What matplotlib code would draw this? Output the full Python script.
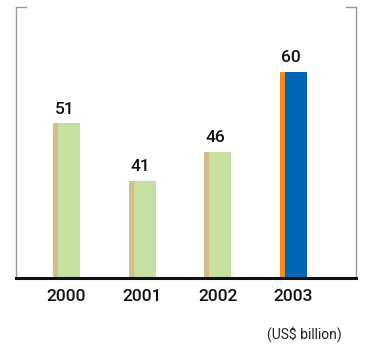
import matplotlib.pyplot as plt
from matplotlib.lines import Line2D

# Investment by year, US$ billion
years = ["2000", "2001", "2002", "2003"]
values = [51, 41, 46, 60]
edge_colors = ["#D8BB8B", "#D8BB8B", "#D8BB8B", "#F38A22"]
face_colors = ["#C6E0A1", "#C6E0A1", "#C6E0A1", "#0065B2"]

plt.rcParams['font.family'] = ['Roboto', 'DejaVu Sans']

fig = plt.figure(figsize=(3.72, 3.44), dpi=100)
ax = fig.add_axes([16 / 372, 66 / 344, 340 / 372, 271 / 344])

x = range(len(years))
strip_w = 0.066
main_w = 0.287
left = -(strip_w + main_w) / 2

# each bar = thin accent strip on the left + wide main body
ax.bar([i + left for i in x], values, width=strip_w, align='edge',
       color=edge_colors, linewidth=0)
ax.bar([i + left + strip_w for i in x], values, width=main_w, align='edge',
       color=face_colors, linewidth=0)

for i, v in zip(x, values):
    ax.annotate(str(v), (i - 0.03, v), xytext=(0, 5), textcoords='offset points',
                ha='center', va='bottom', fontsize=12.5, fontweight='medium',
                color='#111111')

ax.set_xlim(-0.67, 3.83)
ax.set_ylim(24.2, 71.2)
ax.set_xticks(list(x))
ax.set_xticklabels(years, fontsize=12.5, fontweight='medium', color='#111111')
ax.tick_params(axis='x', length=0, pad=8)
ax.set_yticks([])

for side in ['top', 'right', 'left']:
    ax.spines[side].set_visible(False)
ax.spines['bottom'].set_linewidth(2.2)
ax.spines['bottom'].set_color('#111111')

# light gray brackets at the sides
gray = '#9A9A9A'
for xs in ([0, 0], [1, 1]):
    ax.add_line(Line2D(xs, [0, 1], transform=ax.transAxes, color=gray,
                       linewidth=1.0, clip_on=False))
ax.add_line(Line2D([0, 10 / 340], [1, 1], transform=ax.transAxes, color=gray,
                   linewidth=1.0, clip_on=False))
ax.add_line(Line2D([1 - 10 / 340, 1], [1, 1], transform=ax.transAxes, color=gray,
                   linewidth=1.0, clip_on=False))

fig.text(342 / 372, 1 - 334 / 344, "(US$ billion)", ha='right', va='center',
         fontsize=10, color='#222222')

fig.savefig("out.png", dpi=100)
